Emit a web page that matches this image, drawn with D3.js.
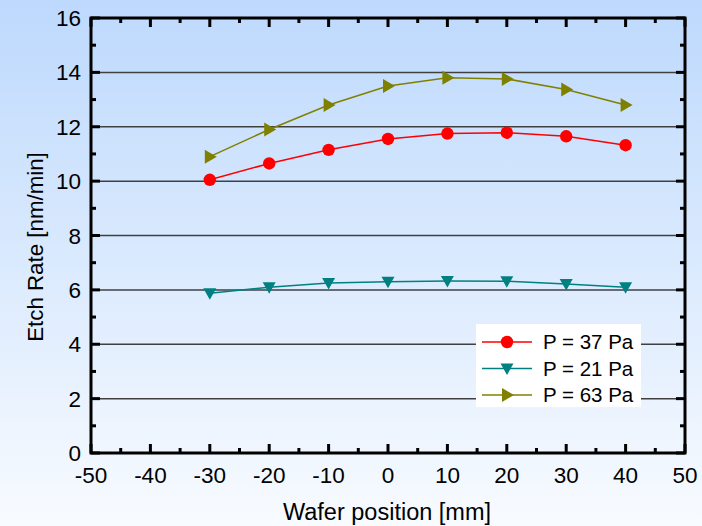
<!DOCTYPE html>
<html><head><meta charset="utf-8">
<script src="https://cdn.jsdelivr.net/npm/d3@7"></script>
<style>html,body{margin:0;padding:0;overflow:hidden}</style>
</head><body>
<script>
const positions = [-30, -20, -10, 0, 10, 20, 30, 40];
const p37 = [10.05, 10.65, 11.15, 11.55, 11.75, 11.78, 11.65, 11.32];
const p21 = [5.88, 6.1, 6.25, 6.3, 6.33, 6.32, 6.22, 6.1];
const p63 = [10.9, 11.9, 12.8, 13.5, 13.8, 13.76, 13.37, 12.8];
const seriesNames = ["P = 37 Pa", "P = 21 Pa", "P = 63 Pa"];
const xTicks = [-50, -40, -30, -20, -10, 0, 10, 20, 30, 40, 50];
const yTicks = [0, 2, 4, 6, 8, 10, 12, 14, 16];

const W = 702, H = 526;
const svg = d3.select("body").append("svg").attr("width", W).attr("height", H);
const defs = svg.append("defs");
const grad = defs.append("linearGradient").attr("id", "bg").attr("x1", 0).attr("y1", 0).attr("x2", 0).attr("y2", 1);
grad.append("stop").attr("offset", "0%").attr("stop-color", "#bdd9fd");
grad.append("stop").attr("offset", "100%").attr("stop-color", "#f8fbff");
svg.append("rect").attr("width", W).attr("height", H).attr("fill", "url(#bg)");

const L = 91, R = 685, T = 18, B = 453;
const x = d3.scaleLinear().domain([-50, 50]).range([L, R]);
const y = d3.scaleLinear().domain([0, 16]).range([B, T]);
const font = "Liberation Sans, Arial, sans-serif";

// gridlines
svg.append("g").selectAll("line").data(yTicks.filter(v => v > 0 && v < 16)).join("line")
  .attr("x1", L).attr("x2", R).attr("y1", d => y(d)).attr("y2", d => y(d))
  .attr("stroke", "#404040").attr("stroke-width", 1.5);

// axes with inward ticks
const minorX = d3.range(-45, 50, 10);
const minorY = d3.range(1, 16, 2);
function ticks(g, vals, len, orient) {
  g.selectAll(null).data(vals).join("line")
    .attr("stroke", "#000").attr("stroke-width", 3)
    .each(function(d) {
      const s = d3.select(this);
      if (orient === "bottom") s.attr("x1", x(d)).attr("x2", x(d)).attr("y1", B).attr("y2", B - len);
      if (orient === "top") s.attr("x1", x(d)).attr("x2", x(d)).attr("y1", T).attr("y2", T + len);
      if (orient === "left") s.attr("y1", y(d)).attr("y2", y(d)).attr("x1", L).attr("x2", L + len);
      if (orient === "right") s.attr("y1", y(d)).attr("y2", y(d)).attr("x1", R).attr("x2", R - len);
    });
}
const tg = svg.append("g");
ticks(tg, xTicks, 9, "bottom"); ticks(tg, minorX, 5, "bottom");
ticks(tg, xTicks, 9, "top"); ticks(tg, minorX, 5, "top");
ticks(tg, yTicks, 9, "left"); ticks(tg, minorY, 5, "left");
ticks(tg, yTicks, 9, "right"); ticks(tg, minorY, 5, "right");

svg.append("rect").attr("x", L).attr("y", T).attr("width", R - L).attr("height", B - T)
  .attr("fill", "none").attr("stroke", "#000").attr("stroke-width", 3);

// tick labels
svg.append("g").selectAll("text").data(xTicks).join("text")
  .attr("x", d => x(d)).attr("y", 483).attr("text-anchor", "middle")
  .attr("font-family", font).attr("font-size", 22.5).text(d => d);
svg.append("g").selectAll("text").data(yTicks).join("text")
  .attr("x", 81).attr("y", d => y(d) + 8).attr("text-anchor", "end")
  .attr("font-family", font).attr("font-size", 22.5).text(d => d);

svg.append("text").attr("x", 387).attr("y", 520).attr("text-anchor", "middle")
  .attr("font-family", font).attr("font-size", 23.5).text("Wafer position [mm]");
svg.append("text").attr("transform", "translate(43,247) rotate(-90)").attr("text-anchor", "middle")
  .attr("font-family", font).attr("font-size", 22.3).text("Etch Rate [nm/min]");

const series = [
  {name: seriesNames[0], vals: p37, color: "#ff0000", shape: "circle"},
  {name: seriesNames[1], vals: p21, color: "#008080", shape: "down"},
  {name: seriesNames[2], vals: p63, color: "#808000", shape: "right"}
];
function marker(g, shape, color) {
  if (shape === "circle") g.append("circle").attr("r", 6.2).attr("fill", color);
  else if (shape === "down") g.append("path").attr("d", "M-6.5,-5L6.5,-5L0,6.5Z").attr("fill", color);
  else g.append("path").attr("d", "M-5,-7L7,0L-5,7Z").attr("fill", color);
}
const line = d3.line().x(d => x(d[0])).y(d => y(d[1]));
series.forEach(s => {
  const pts = positions.map((p, i) => [p, s.vals[i]]);
  svg.append("path").attr("d", line(pts)).attr("fill", "none").attr("stroke", s.color).attr("stroke-width", 1.5);
  pts.forEach(p => {
    const g = svg.append("g").attr("transform", `translate(${x(p[0])},${y(p[1])})`);
    marker(g, s.shape, s.color);
  });
});

// legend
const lg = svg.append("g");
lg.append("rect").attr("x", 476).attr("y", 324).attr("width", 165).attr("height", 83).attr("fill", "#fff");
series.forEach((s, i) => {
  const yy = 342 + i * 26.5;
  lg.append("line").attr("x1", 482).attr("x2", 532).attr("y1", yy).attr("y2", yy).attr("stroke", s.color).attr("stroke-width", 1.5);
  const g = lg.append("g").attr("transform", `translate(507,${yy})`);
  marker(g, s.shape, s.color);
  lg.append("text").attr("x", 543).attr("y", yy + 7).attr("font-family", font).attr("font-size", 20.5).text(s.name);
});
</script>
</body></html>
